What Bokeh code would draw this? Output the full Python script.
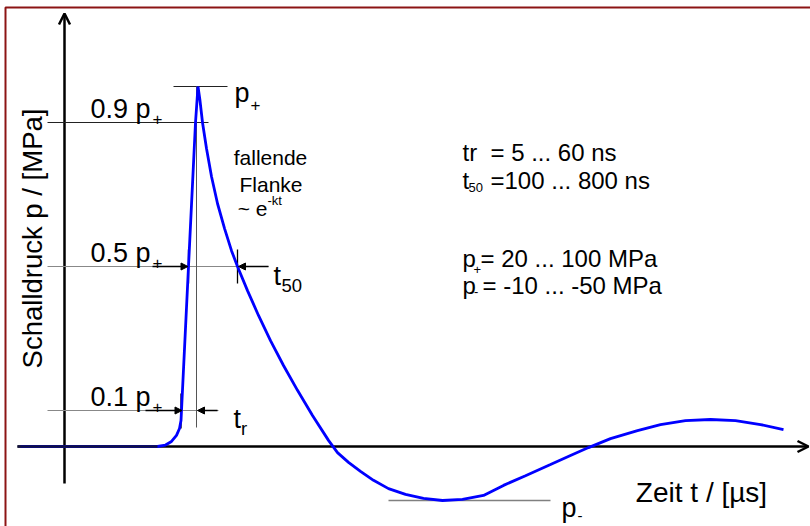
from bokeh.plotting import figure
from bokeh.models import Range1d, Arrow, NormalHead, OpenHead
from bokeh.core.properties import value
from bokeh.embed import file_html
from bokeh.resources import INLINE

# ---------------- data (schematic shock-wave pulse) ----------------
# time in µs, pressure in MPa
t_us = [-0.44, 0.93, 1.01, 1.07, 1.12, 1.15, 1.165, 1.17, 1.205, 1.24, 1.31,
        1.335, 1.355, 1.38, 1.42, 1.47, 1.53, 1.60, 1.67, 1.73, 1.83, 1.94,
        2.06, 2.19, 2.33, 2.48, 2.64, 2.73, 2.84, 2.96, 3.09, 3.24, 3.41,
        3.59, 3.78, 3.98, 4.19, 4.39, 4.61, 4.86, 5.06, 5.24, 5.46, 5.73,
        5.96, 6.21, 6.46, 6.71, 6.96, 7.19]
p_mpa = [0.0, 0.0, 0.4, 1.4, 3.1, 5.0, 7.2, 10.0, 30.0, 50.0, 90.0,
         100.0, 96.1, 90.0, 82.8, 75.0, 67.5, 60.6, 54.4, 50.0, 43.3, 36.4,
         29.4, 22.5, 15.6, 8.6, 1.7, -1.7, -4.4, -6.9, -9.4, -11.7, -13.3,
         -14.4, -15.0, -14.7, -13.6, -10.8, -8.1, -5.0, -2.5, -0.3, 2.2, 4.4,
         6.1, 7.2, 7.5, 7.2, 6.1, 4.7]

P_PLUS = 100.0          # peak pressure p+
P_MINUS = -15.0         # negative peak p-
LEVELS = [0.9, 0.5, 0.1]
LEVEL_LABELS = ["0.9 p", "0.5 p", "0.1 p"]
T_RISE_10 = 1.17        # rising edge at 0.1 p+
T_RISE_50 = 1.24        # rising edge at 0.5 p+
T_RISE_90 = 1.32        # rising edge at 0.9 p+
T_FALL_50 = 1.73        # falling edge at 0.5 p+ (t50)

RANGE_TEXT = ["= 5 ... 60 ns", "=100 ... 800 ns", "= 20 ... 100 MPa", "= -10 ... -50 MPa"]

FONT = value("Liberation Sans")

# page pixel -> data helpers (for placing annotations)
def px(x):
    return (x - 64) / 100.0

def py(y):
    return (446 - y) / 3.6

p = figure(width=810, height=526, output_backend="svg", toolbar_location=None,
           x_range=Range1d(px(0), px(810)), y_range=Range1d(py(526), py(0)),
           x_axis_type=None, y_axis_type=None, min_border=0)
p.grid.visible = False
p.outline_line_color = None
p.background_fill_color = "white"
p.border_fill_color = "white"

# frame border
p.line(x=[px(5), px(5), px(830)], y=[py(540), py(7), py(7)], line_color="#8c1414", line_width=2)

# axes with arrows
p.add_layout(Arrow(end=OpenHead(size=11, line_width=2.5, line_color="black"),
                   x_start=0, y_start=py(483), x_end=0, y_end=py(13),
                   line_width=2.5, line_color="black", level="underlay"))
p.add_layout(Arrow(end=OpenHead(size=11, line_width=2.5, line_color="black"),
                   x_start=px(17), y_start=0, x_end=px(808), y_end=0,
                   line_width=2.5, line_color="black", level="underlay"))

# reference lines
p.line(x=[px(173), px(227)], y=[P_PLUS, P_PLUS], line_color="#222222", line_width=1)
p.line(x=[px(47), px(208)], y=[LEVELS[0] * P_PLUS] * 2, line_color="#222222", line_width=1)
p.line(x=[px(47), px(268)], y=[LEVELS[1] * P_PLUS] * 2, line_color="#888888", line_width=1)
p.line(x=[px(47), px(218)], y=[LEVELS[2] * P_PLUS] * 2, line_color="#888888", line_width=1)
p.line(x=[T_RISE_90, T_RISE_90], y=[P_PLUS, py(427)], line_color="#555555", line_width=1)
p.line(x=[px(388), px(550)], y=[P_MINUS, P_MINUS], line_color="#808080", line_width=1.5)
# tick marks
p.line(x=[T_RISE_50, T_RISE_50], y=[py(249), py(283)], line_color="black", line_width=1.3)
p.line(x=[T_FALL_50, T_FALL_50], y=[py(249), py(283)], line_color="black", line_width=1.3)
p.line(x=[T_RISE_10 - 0.005, T_RISE_10 - 0.005], y=[py(393), py(428)], line_color="black", line_width=1.3)

# pulse curve
p.line(x=t_us, y=p_mpa, line_color="#0000ff", line_width=2.8)
p.line(x=[px(17), t_us[1]], y=[0, 0], line_color="#101040", line_width=2.5)

# measurement arrows
def harrow(x0, x1, yv):
    p.add_layout(Arrow(end=NormalHead(size=7, fill_color="black", line_color="black", line_width=1),
                       x_start=x0, y_start=yv, x_end=x1, y_end=yv,
                       line_width=1.5, line_color="black"))

harrow(px(152), T_RISE_50 - 0.005, LEVELS[1] * P_PLUS)
harrow(px(268), T_FALL_50 + 0.01, LEVELS[1] * P_PLUS)
harrow(px(145), T_RISE_10 + 0.005, LEVELS[2] * P_PLUS)
harrow(px(217), T_RISE_90 + 0.01, LEVELS[2] * P_PLUS)

def txt(x, y, s, size, align="left", angle=0.0, baseline="alphabetic"):
    p.text(x=[x], y=[y], text=[s], text_font=FONT, text_font_size=f"{size}px",
           text_align=align, text_baseline=baseline, text_color="black", angle=angle)

# level labels
for lv, lab in zip(LEVELS, LEVEL_LABELS):
    ypix = 446 - lv * P_PLUS * 3.6
    txt(px(90), py(ypix - 14), lab, 27)
    txt(px(152), py(ypix - 4), "+", 17)

# peak label
txt(px(234), py(92), "p", 27)
txt(px(250), py(104), "+", 17)
# t50 / tr labels
txt(px(273), py(275), "t", 27)
txt(px(281), py(285), "50", 18.5)
txt(px(233), py(418), "t", 27)
txt(px(240.5), py(428), "r", 18.5)
# p- label
txt(px(561), py(507), "p", 27)
txt(px(577), py(515), "-", 15)

# falling edge note
txt(px(270), py(157), "fallende", 21, align="center")
txt(px(270.5), py(184), "Flanke", 21, align="center")
txt(px(267), py(208), "~ e", 21, align="right")
txt(px(267), py(200), "-kt", 13)

# parameter ranges
txt(px(462), py(152), "tr", 24)
txt(px(490), py(152), RANGE_TEXT[0], 24)
txt(px(462), py(180), "t", 24)
txt(px(468), py(187), "50", 13)
txt(px(490), py(180), RANGE_TEXT[1], 24)
txt(px(462), py(258), "p", 24)
txt(px(473), py(269), "+", 13)
txt(px(480), py(258), RANGE_TEXT[2], 24)
txt(px(462), py(285), "p", 24)
txt(px(473.5), py(291), "-", 13)
txt(px(482), py(285), RANGE_TEXT[3], 24)

# axis titles
txt(px(701), py(492), "Zeit t / [µs]", 28, align="center")
txt(px(32), py(238), "Schalldruck p / [MPa]", 27.5, align="center", angle=1.5707963, baseline="middle")

open("out.html", "w").write(file_html(p, INLINE))
